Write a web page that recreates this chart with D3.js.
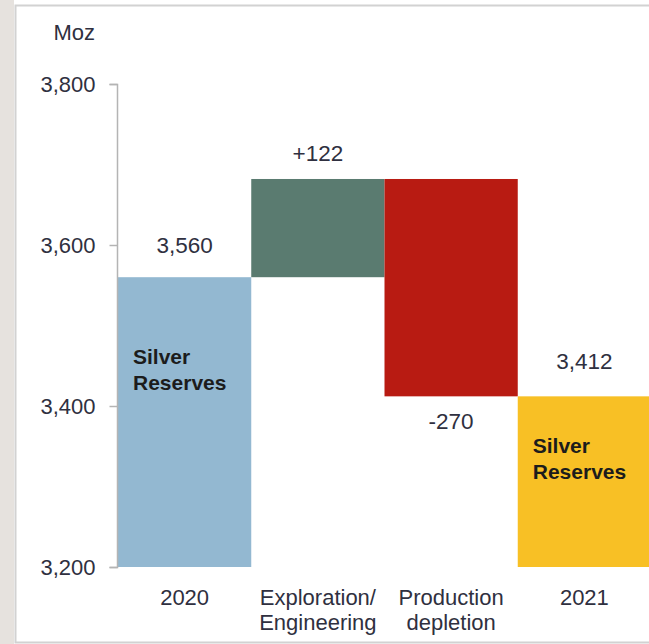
<!DOCTYPE html>
<html>
<head>
<meta charset="utf-8">
<script src="https://cdn.jsdelivr.net/npm/d3@7"></script>
<style>
  html, body { margin: 0; padding: 0; background: #fff; }
  svg { display: block; font-family: "Liberation Sans", Arial, sans-serif; }
</style>
</head>
<body>
<svg id="chart" width="649" height="644"></svg>
<script>
// Silver reserves bridge, 2020 -> 2021 (Moz)
const categories = ["2020", "Exploration/Engineering", "Production depletion", "2021"];
const categoryLines = [["2020"], ["Exploration/", "Engineering"], ["Production", "depletion"], ["2021"]];
const values = [3560, 122, -270, 3412];
const kinds = ["total", "delta", "delta", "total"];
const valueLabels = ["3,560", "+122", "-270", "3,412"];
const colors = ["#93b8d1", "#5a7b70", "#b81b12", "#f8c025"];
const yTicks = [3200, 3400, 3600, 3800];
const unitLabel = "Moz";
const barNote = ["Silver", "Reserves"];

const svg = d3.select("#chart");
const W = 649, H = 644;

// page backdrop and frame
svg.append("rect").attr("x", 0).attr("y", 0).attr("width", 14).attr("height", H).attr("fill", "#e6e2de");
svg.append("rect").attr("x", 14).attr("y", 0).attr("width", W - 14).attr("height", H).attr("fill", "#fff");
svg.append("path")
  .attr("d", `M${W + 2},5.5 H15.5 V642.5 H${W + 2}`)
  .attr("fill", "none").attr("stroke", "#d2d2d2").attr("stroke-width", 2);

const y = d3.scaleLinear().domain([3200, 3800]).range([567, 84]);
const x = d3.scaleBand().domain(categories).range([118, 651]).padding(0);

// running totals for the waterfall
let running = 0;
const bars = categories.map((c, i) => {
  let lo, hi;
  if (kinds[i] === "total") {
    lo = 3200; hi = values[i]; running = values[i];
  } else {
    const start = running, end = running + values[i];
    lo = Math.min(start, end); hi = Math.max(start, end); running = end;
  }
  return { c, i, lo, hi, v: values[i] };
});

svg.append("g").selectAll("rect").data(bars).join("rect")
  .attr("x", d => x(d.c))
  .attr("width", x.bandwidth())
  .attr("y", d => y(d.hi))
  .attr("height", d => y(d.lo) - y(d.hi))
  .attr("fill", d => colors[d.i]);

// y axis
const yAxis = d3.axisLeft(y).tickValues(yTicks).tickFormat(d3.format(",")).tickSize(8).tickPadding(14);
const gy = svg.append("g").attr("transform", "translate(117.5,0)").call(yAxis);
gy.select(".domain").attr("stroke", "#b4b4b4").attr("stroke-width", 1.5).attr("d", "M-8,84.5H0V567.5H-8");
gy.selectAll(".tick line").attr("stroke", "#b4b4b4").attr("stroke-width", 1.5);
gy.selectAll(".tick text").attr("font-size", 22).attr("fill", "#2f3040")
  .attr("font-family", "'Liberation Sans', Arial, sans-serif");

svg.append("text").attr("x", 95).attr("y", 40).attr("text-anchor", "end")
  .attr("font-size", 22).attr("fill", "#2f3040").text(unitLabel);

// value labels
const labelOffset = [-24, -18, 33, -27];
svg.append("g").selectAll("text").data(bars).join("text")
  .attr("x", d => x(d.c) + x.bandwidth() / 2)
  .attr("y", d => (d.i === 2 ? y(d.lo) : y(d.hi)) + labelOffset[d.i])
  .attr("text-anchor", "middle")
  .attr("font-size", 22.5).attr("fill", "#2f3040")
  .text(d => valueLabels[d.i]);

// category labels
const gx = svg.append("g");
categories.forEach((c, i) => {
  const t = gx.append("text")
    .attr("x", x(c) + x.bandwidth() / 2)
    .attr("y", 605)
    .attr("text-anchor", "middle")
    .attr("font-size", 22).attr("fill", "#2f3040");
  categoryLines[i].forEach((line, k) => {
    t.append("tspan").attr("x", x(c) + x.bandwidth() / 2).attr("dy", k === 0 ? 0 : 25).text(line);
  });
});

// in-bar notes on the two totals
[0, 3].forEach(i => {
  const bx = x(categories[i]) + 15;
  const by = i === 0 ? 364 : 453;
  const t = svg.append("text").attr("x", bx).attr("y", by)
    .attr("font-size", 21).attr("font-weight", "bold").attr("fill", "#1c1c1c");
  barNote.forEach((line, k) => {
    t.append("tspan").attr("x", bx).attr("dy", k === 0 ? 0 : 26).text(line);
  });
});
</script>
</body>
</html>
